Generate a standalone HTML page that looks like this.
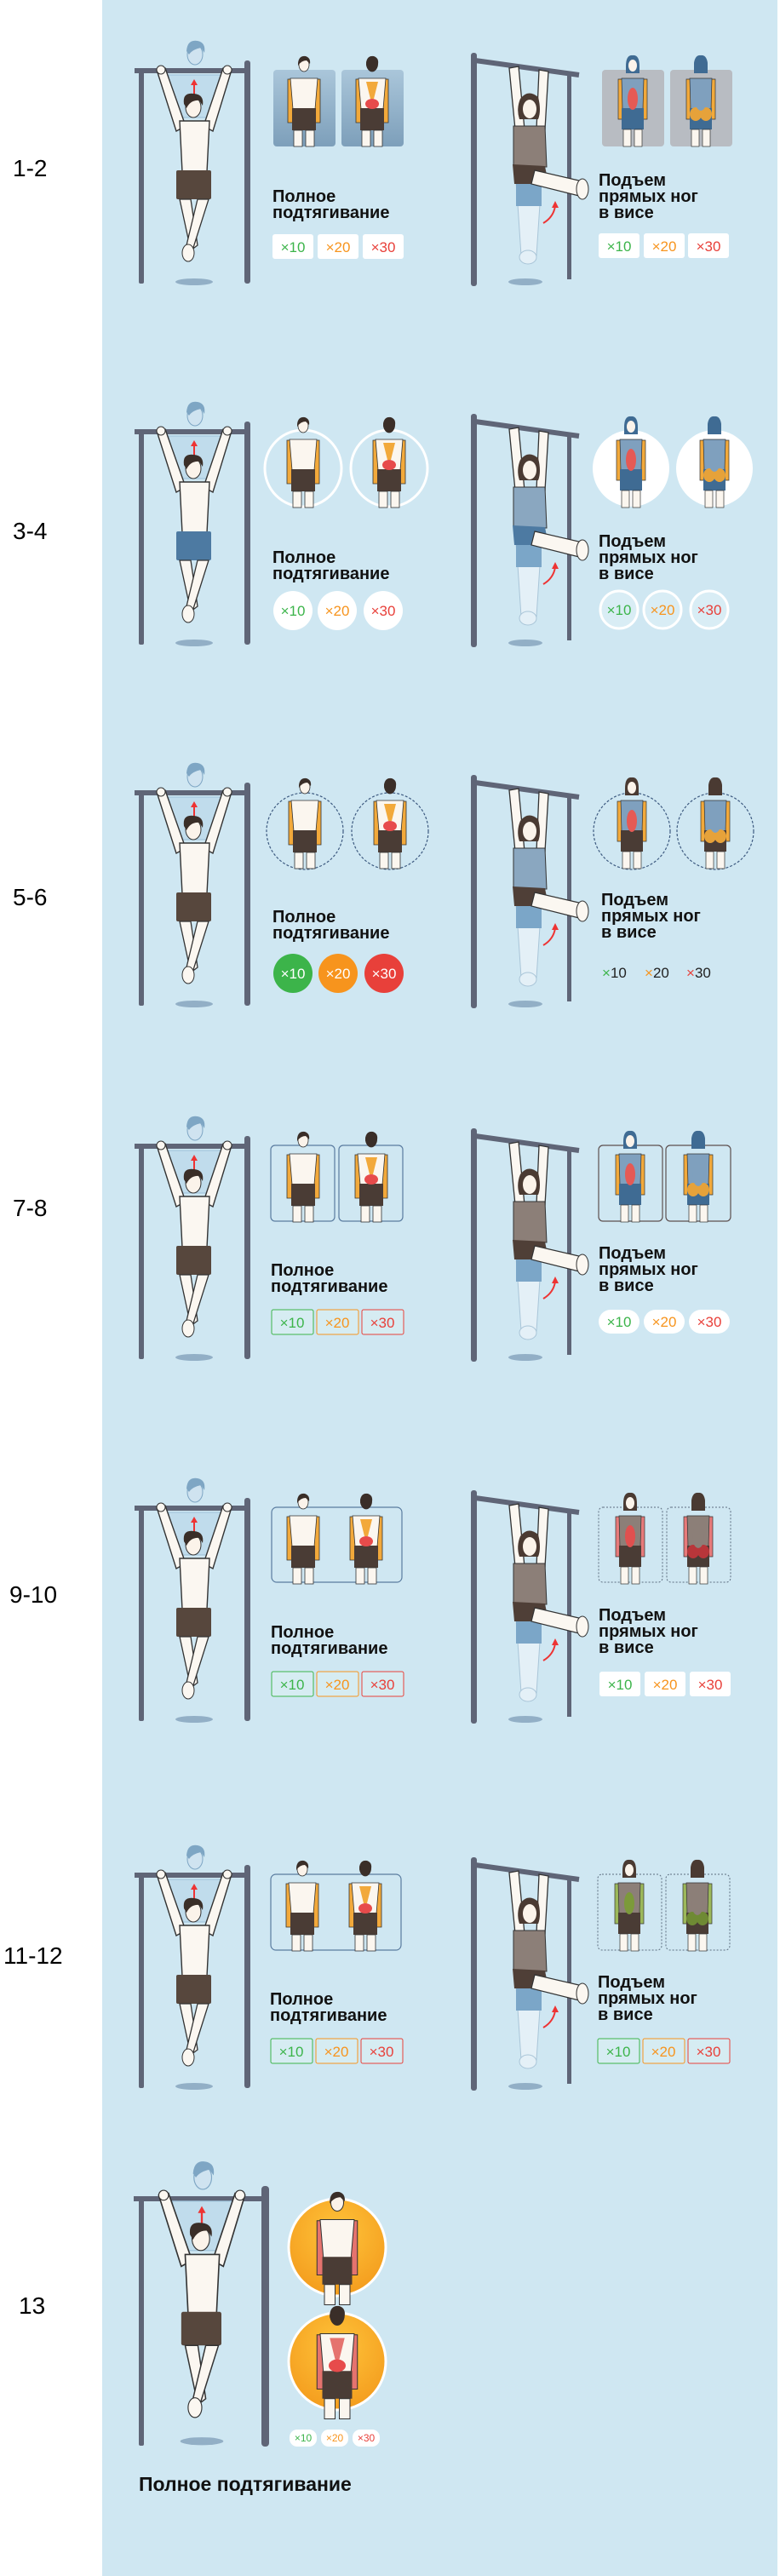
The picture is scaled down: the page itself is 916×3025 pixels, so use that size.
<!DOCTYPE html>
<html><head><meta charset="utf-8"><style>
html,body{margin:0;padding:0;background:#fff}
svg{display:block}
.lab{font:28px "Liberation Sans",sans-serif;fill:#000}
.t{font:bold 20px "Liberation Sans","Noto Sans CJK SC",sans-serif;fill:#111}
.b{font:17px "Liberation Sans",sans-serif}
.g{fill:#3cb44a}.o{fill:#f7941d}.r{fill:#e8403a}.k{fill:#222}
</style></head><body>
<svg width="916" height="3025" viewBox="0 0 916 3025" xmlns="http://www.w3.org/2000/svg">
<defs>
<linearGradient id="bp" x1="0" y1="0" x2="0" y2="1"><stop offset="0" stop-color="#aac6da"/><stop offset="1" stop-color="#7d9fba"/></linearGradient>
<radialGradient id="og" cx="0.5" cy="0.35" r="0.7"><stop offset="0" stop-color="#ffc43a"/><stop offset="1" stop-color="#f39a1c"/></radialGradient>
<!-- man on bar (no bars) -->
<g id="man">
 <ellipse cx="228" cy="331" rx="22" ry="4" fill="#92afc6"/>
 <path d="M198,88 L262,88 L258,112 L246,138 L212,138 L200,112 Z" fill="#c0dcec" stroke="#9cc0d8"/>
 <ellipse cx="229" cy="64" rx="9" ry="12" fill="#cfe3f0" stroke="#7ea6c4"/>
 <path d="M219,60 Q220,46 232,48 Q242,50 240,62 L236,56 Q226,58 222,64 Z" fill="#7ea6c4"/>
 <path d="M228,112 L228,98" stroke="#e33" stroke-width="2"/><path d="M224,100 L228,93 L232,100Z" fill="#e33"/>
 <path d="M184,82 L194,80 L218,148 L207,154 Z" fill="#fbf7f1" stroke="#333" stroke-width="1.4"/>
 <path d="M262,80 L272,82 L250,154 L239,148 Z" fill="#fbf7f1" stroke="#333" stroke-width="1.4"/>
 <circle cx="189" cy="82" r="5" fill="#fbf7f1" stroke="#333"/><circle cx="267" cy="82" r="5" fill="#fbf7f1" stroke="#333"/>
 <path d="M211,142 L246,142 L243,202 L214,202 Z" fill="#fbf7f1" stroke="#333" stroke-width="1.4"/>
 <ellipse cx="227" cy="126" rx="9" ry="12" fill="#fbf3ea" stroke="#333"/>
 <path d="M216,122 Q214,108 228,110 Q240,111 238,124 L234,118 Q224,117 219,127 Z" fill="#3a2e28"/>
 <rect x="207" y="200" width="41" height="34" rx="2" fill="var(--sh,#57473d)"/>
 <path d="M211,234 L224,234 L232,288 L224,294 Z" fill="#fbf7f1" stroke="#333" stroke-width="1.3"/>
 <path d="M232,234 L245,234 L226,294 L219,288 Z" fill="#fbf7f1" stroke="#333" stroke-width="1.3"/>
 <ellipse cx="221" cy="297" rx="7" ry="10" fill="#fbf7f1" stroke="#333"/>
</g>
<g id="lbars">
 <rect x="163" y="83" width="6" height="250" rx="2" fill="#5f6577"/>
 <rect x="287" y="71" width="7" height="262" rx="3" fill="#5f6577"/>
 <rect x="158" y="80" width="134" height="6" fill="#5f6577"/>
</g>
<g id="woman">
 <rect x="553" y="62" width="7" height="274" rx="3" fill="#5f6577"/>
 <rect x="666" y="88" width="5" height="240" fill="#5f6577"/>
 <path d="M558,71 L680,88" stroke="#5f6577" stroke-width="6"/>
 <ellipse cx="617" cy="331" rx="20" ry="4" fill="#92afc6"/>
 <path d="M598,80 L609,78 L616,152 L605,152 Z" fill="#fbf7f1" stroke="#333" stroke-width="1.3"/>
 <path d="M633,82 L644,84 L640,152 L630,152 Z" fill="#fbf7f1" stroke="#333" stroke-width="1.3"/>
 <path d="M606,214 L636,214 L634,240 L630,300 L612,300 L608,240Z" fill="#e4f0f7" stroke="#a9c5d8"/>
 <rect x="606" y="212" width="30" height="30" fill="#7ba6c8"/>
 <ellipse cx="620" cy="302" rx="10" ry="8" fill="#e4f0f7" stroke="#a9c5d8"/>
 <path d="M603,148 L640,148 L642,196 L603,196 Z" fill="var(--top,#8c7f78)" stroke="#333" stroke-width="1"/>
 <path d="M602,193 L640,195 L644,216 L604,216 Z" fill="var(--ws,#4f3f37)"/>
 <path d="M628,200 L684,213 L680,230 L624,216 Z" fill="#fbf7f1" stroke="#333" stroke-width="1.2"/>
 <ellipse cx="684" cy="222" rx="7" ry="12" fill="#fbf7f1" stroke="#333"/>
 <path d="M611,116 Q620,104 632,114 Q636,130 632,140 L610,140 Q606,128 611,116Z" fill="#4a3a32"/>
 <ellipse cx="622" cy="128" rx="8" ry="11" fill="#fbf3ea"/>
 <path d="M638,262 Q650,255 652,242" stroke="#e33" stroke-width="2" fill="none"/><path d="M648,244 L652,236 L656,244Z" fill="#e33"/>
</g>
<!-- small figures: origin = panel center x, panel top y -->
<g id="fm">
 <path d="M-19,11 L-13,11 L-13,62 L-19,62Z" fill="var(--arm,#f2a93b)" stroke="#333" stroke-width=".8"/>
 <path d="M13,11 L19,11 L19,62 L13,62Z" fill="var(--arm,#f2a93b)" stroke="#333" stroke-width=".8"/>
 <path d="M-16,10 L16,10 L13,46 L-13,46Z" fill="#fbf6ef" stroke="#333" stroke-width=".8"/>
 <rect x="-14" y="45" width="28" height="26" fill="#4a3c35"/>
 <rect x="-12" y="71" width="10" height="19" fill="#fbf6ef" stroke="#333" stroke-width=".8"/>
 <rect x="2" y="71" width="10" height="19" fill="#fbf6ef" stroke="#333" stroke-width=".8"/>
 <ellipse cx="0" cy="-6" rx="6" ry="8" fill="#fbf3ea" stroke="#333" stroke-width=".8"/>
 <path d="M-7,-8 Q-6,-17 2,-16 Q8,-14 7,-7 L3,-11 Q-3,-11 -7,-5Z" fill="#3a2e28"/>
</g>
<g id="bm">
 <use href="#fm"/>
 <path d="M-7,14 L7,14 L2,34 L-2,34Z" fill="var(--arm,#f2a93b)"/>
 <ellipse cx="0" cy="40" rx="8" ry="6" fill="#e74b4b"/>
 <ellipse cx="0" cy="-7" rx="7" ry="9" fill="#3a2e28"/>
</g>
<g id="fw">
 <path d="M-17,11 L-12,11 L-12,58 L-17,58Z" fill="var(--warm,#f2a93b)" stroke="#333" stroke-width=".7"/>
 <path d="M12,11 L17,11 L17,58 L12,58Z" fill="var(--warm,#f2a93b)" stroke="#333" stroke-width=".7"/>
 <path d="M-13,10 L13,10 L12,46 L-12,46Z" fill="var(--wt,#7fa0be)" stroke="#333" stroke-width=".7"/>
 <rect x="-13" y="45" width="26" height="25" fill="var(--wsh,#3f6b93)"/>
 <ellipse cx="0" cy="34" rx="6" ry="13" fill="var(--abs,#e55a55)"/>
 <rect x="-11" y="70" width="9" height="20" fill="#fbf6ef" stroke="#333" stroke-width=".7"/>
 <rect x="2" y="70" width="9" height="20" fill="#fbf6ef" stroke="#333" stroke-width=".7"/>
 <path d="M-8,-4 Q-8,-18 0,-17 Q8,-18 8,-4 L8,4 L-8,4Z" fill="var(--wh,#3f6b93)"/>
 <ellipse cx="0" cy="-5" rx="5" ry="7" fill="#fbf3ea"/>
</g>
<g id="bw">
 <use href="#fw"/>
 <ellipse cx="-6" cy="52" rx="7" ry="8" fill="var(--glu,#e6a23a)"/><ellipse cx="6" cy="52" rx="7" ry="8" fill="var(--glu,#e6a23a)"/>
 <ellipse cx="0" cy="34" rx="7" ry="14" fill="var(--wt,#7fa0be)"/>
 <ellipse cx="0" cy="-7" rx="8" ry="10" fill="var(--wh,#3f6b93)"/>
</g>
</defs>

<rect x="120" y="0" width="793" height="3025" fill="#cfe7f2"/>

<!-- labels -->
<text class="lab" x="15" y="207">1-2</text>
<text class="lab" x="15" y="633">3-4</text>
<text class="lab" x="15" y="1063">5-6</text>
<text class="lab" x="15" y="1428">7-8</text>
<text class="lab" x="11" y="1882">9-10</text>
<text class="lab" x="4" y="2306">11-12</text>
<text class="lab" x="22" y="2717">13</text>

<!-- ROW 1 -->
<g>
 <use href="#lbars"/><use href="#man"/><use href="#woman"/>
 <rect x="321" y="82" width="73" height="90" rx="4" fill="url(#bp)"/>
 <rect x="401" y="82" width="73" height="90" rx="4" fill="url(#bp)"/>
 <use href="#fm" x="357" y="82"/><use href="#bm" x="437" y="82"/>
 <rect x="707" y="82" width="73" height="90" rx="4" fill="#b8bcc2"/>
 <rect x="787" y="82" width="73" height="90" rx="4" fill="#b8bcc2"/>
 <use href="#fw" x="743" y="82"/><use href="#bw" x="823" y="82"/>
 <text class="t" x="320" y="237">Полное</text><text class="t" x="320" y="256">подтягивание</text>
 <text class="t" x="703" y="218">Подъем</text><text class="t" x="703" y="237">прямых ног</text><text class="t" x="703" y="256">в висе</text>
 <g fill="#fff"><rect x="320" y="275" width="48" height="29" rx="3"/><rect x="373" y="275" width="48" height="29" rx="3"/><rect x="426" y="275" width="48" height="29" rx="3"/>
 <rect x="703" y="274" width="48" height="29" rx="3"/><rect x="756" y="274" width="48" height="29" rx="3"/><rect x="808" y="274" width="48" height="29" rx="3"/></g>
 <g class="b" text-anchor="middle"><text class="g" x="344" y="296">×10</text><text class="o" x="397" y="296">×20</text><text class="r" x="450" y="296">×30</text>
 <text class="g" x="727" y="295">×10</text><text class="o" x="780" y="295">×20</text><text class="r" x="832" y="295">×30</text></g>
</g>

<!-- ROW 2 -->
<g transform="translate(0,424)" style="--sh:#4d7aa2;--top:#8aa7c0;--ws:#4d7aa2">
 <use href="#lbars"/><use href="#man"/><use href="#woman"/>
 <circle cx="356" cy="126" r="45" fill="#cfe7f2" stroke="#fff" stroke-width="3"/>
 <circle cx="457" cy="126" r="45" fill="#cfe7f2" stroke="#fff" stroke-width="3"/>
 <use href="#fm" x="356" y="82"/><use href="#bm" x="457" y="82"/>
 <circle cx="741" cy="126" r="45" fill="#fff"/><circle cx="839" cy="126" r="45" fill="#fff"/>
 <use href="#fw" x="741" y="82"/><use href="#bw" x="839" y="82"/>
 <text class="t" x="320" y="237">Полное</text><text class="t" x="320" y="256">подтягивание</text>
 <text class="t" x="703" y="218">Подъем</text><text class="t" x="703" y="237">прямых ног</text><text class="t" x="703" y="256">в висе</text>
 <g fill="#fff"><circle cx="344" cy="293" r="23"/><circle cx="396" cy="293" r="23"/><circle cx="450" cy="293" r="23"/></g>
 <g fill="#d9edf5" stroke="#fff" stroke-width="3"><circle cx="727" cy="292" r="22"/><circle cx="778" cy="292" r="22"/><circle cx="833" cy="292" r="22"/></g>
 <g class="b" text-anchor="middle"><text class="g" x="344" y="299">×10</text><text class="o" x="396" y="299">×20</text><text class="r" x="450" y="299">×30</text>
 <text class="g" x="727" y="298">×10</text><text class="o" x="778" y="298">×20</text><text class="r" x="833" y="298">×30</text></g>
</g>

<!-- ROW 3 -->
<g transform="translate(0,848)" style="--top:#8aa7c0;--ws:#4f3f37;--wsh:#4a3c35;--wh:#4a3a32">
 <use href="#lbars"/><use href="#man"/><use href="#woman"/>
 <g fill="none" stroke="#3d5a80" stroke-width="1.2" stroke-dasharray="3,2"><circle cx="358" cy="128" r="45"/><circle cx="458" cy="128" r="45"/><circle cx="742" cy="128" r="45"/><circle cx="840" cy="128" r="45"/></g>
 <use href="#fm" x="358" y="82"/><use href="#bm" x="458" y="82"/>
 <use href="#fw" x="742" y="82"/><use href="#bw" x="840" y="82"/>
 <text class="t" x="320" y="235">Полное</text><text class="t" x="320" y="254">подтягивание</text>
 <text class="t" x="706" y="215">Подъем</text><text class="t" x="706" y="234">прямых ног</text><text class="t" x="706" y="253">в висе</text>
 <circle cx="344" cy="295" r="23" fill="#3cb44a"/><circle cx="397" cy="295" r="23" fill="#f7941d"/><circle cx="451" cy="295" r="23" fill="#e8403a"/>
 <g class="b" text-anchor="middle" fill="#fff"><text x="344" y="301">×10</text><text x="397" y="301">×20</text><text x="451" y="301">×30</text></g>
 <g class="b"><text x="707" y="300"><tspan class="g">×</tspan><tspan class="k">10</tspan></text><text x="757" y="300"><tspan class="o">×</tspan><tspan class="k">20</tspan></text><text x="806" y="300"><tspan class="r">×</tspan><tspan class="k">30</tspan></text></g>
</g>

<!-- ROW 4 -->
<g transform="translate(0,1263)">
 <use href="#lbars"/><use href="#man"/><use href="#woman"/>
 <g fill="none" stroke="#5a7ca0" stroke-width="1.2"><rect x="318" y="82" width="75" height="89" rx="5"/><rect x="398" y="82" width="75" height="89" rx="5"/></g>
 <g fill="none" stroke="#5d4f4f" stroke-width="1.2"><rect x="703" y="82" width="75" height="89" rx="5"/><rect x="782" y="82" width="76" height="89" rx="5"/></g>
 <use href="#fm" x="356" y="82"/><use href="#bm" x="436" y="82"/>
 <use href="#fw" x="740" y="82"/><use href="#bw" x="820" y="82"/>
 <text class="t" x="318" y="235">Полное</text><text class="t" x="318" y="254">подтягивание</text>
 <text class="t" x="703" y="215">Подъем</text><text class="t" x="703" y="234">прямых ног</text><text class="t" x="703" y="253">в висе</text>
 <rect x="319" y="275" width="49" height="29" rx="2" fill="#d6ecf2" stroke="#3cb44a"/><rect x="372" y="275" width="49" height="29" rx="2" fill="#d6ecf2" stroke="#f7941d"/><rect x="425" y="275" width="49" height="29" rx="2" fill="#d6ecf2" stroke="#e8403a"/>
 <g fill="#fff"><rect x="703" y="275" width="48" height="28" rx="14"/><rect x="756" y="275" width="48" height="28" rx="14"/><rect x="809" y="275" width="48" height="28" rx="14"/></g>
 <g class="b" text-anchor="middle"><text class="g" x="343" y="296">×10</text><text class="o" x="396" y="296">×20</text><text class="r" x="449" y="296">×30</text>
 <text class="g" x="727" y="295">×10</text><text class="o" x="780" y="295">×20</text><text class="r" x="833" y="295">×30</text></g>
</g>

<!-- ROW 5 -->
<g transform="translate(0,1688)" style="--top:#8c7f78;--wt:#8c7f78;--wsh:#4a3c35;--wh:#4a3a32;--abs:#e0504f;--warm:#e77a7a;--glu:#b8363a">
 <use href="#lbars"/><use href="#man"/><use href="#woman"/>
 <rect x="319" y="82" width="153" height="88" rx="6" fill="none" stroke="#5a7ca0" stroke-width="1.2"/>
 <g fill="none" stroke="#5d6e80" stroke-width="1" stroke-dasharray="2,2"><rect x="703" y="82" width="75" height="88" rx="5"/><rect x="783" y="82" width="75" height="88" rx="5"/></g>
 <use href="#fm" x="356" y="82"/><use href="#bm" x="430" y="82"/>
 <use href="#fw" x="740" y="82"/><use href="#bw" x="820" y="82"/>
 <text class="t" x="318" y="235">Полное</text><text class="t" x="318" y="254">подтягивание</text>
 <text class="t" x="703" y="215">Подъем</text><text class="t" x="703" y="234">прямых ног</text><text class="t" x="703" y="253">в висе</text>
 <rect x="319" y="275" width="49" height="29" rx="2" fill="#d6ecf2" stroke="#3cb44a"/><rect x="372" y="275" width="49" height="29" rx="2" fill="#d6ecf2" stroke="#f7941d"/><rect x="425" y="275" width="49" height="29" rx="2" fill="#d6ecf2" stroke="#e8403a"/>
 <g fill="#fff"><rect x="704" y="275" width="48" height="29" rx="3"/><rect x="757" y="275" width="48" height="29" rx="3"/><rect x="810" y="275" width="48" height="29" rx="3"/></g>
 <g class="b" text-anchor="middle"><text class="g" x="343" y="296">×10</text><text class="o" x="396" y="296">×20</text><text class="r" x="449" y="296">×30</text>
 <text class="g" x="728" y="296">×10</text><text class="o" x="781" y="296">×20</text><text class="r" x="834" y="296">×30</text></g>
</g>

<!-- ROW 6 -->
<g transform="translate(0,2119)" style="--top:#8c7f78;--wt:#8c7f78;--wsh:#4a3c35;--wh:#4a3a32;--abs:#7c9a3a;--warm:#9cb85a;--glu:#6f8a34">
 <use href="#lbars"/><use href="#man"/><use href="#woman"/>
 <rect x="318" y="82" width="153" height="89" rx="6" fill="none" stroke="#5a7ca0" stroke-width="1.2"/>
 <g fill="none" stroke="#5d6e80" stroke-width="1" stroke-dasharray="2,2"><rect x="702" y="82" width="75" height="89" rx="5"/><rect x="782" y="82" width="75" height="89" rx="5"/></g>
 <use href="#fm" x="355" y="82"/><use href="#bm" x="429" y="82"/>
 <use href="#fw" x="739" y="82"/><use href="#bw" x="819" y="82"/>
 <text class="t" x="317" y="235">Полное</text><text class="t" x="317" y="254">подтягивание</text>
 <text class="t" x="702" y="215">Подъем</text><text class="t" x="702" y="234">прямых ног</text><text class="t" x="702" y="253">в висе</text>
 <rect x="318" y="275" width="49" height="29" rx="2" fill="#d6ecf2" stroke="#3cb44a"/><rect x="371" y="275" width="49" height="29" rx="2" fill="#d6ecf2" stroke="#f7941d"/><rect x="424" y="275" width="49" height="29" rx="2" fill="#d6ecf2" stroke="#e8403a"/>
 <rect x="702" y="275" width="49" height="29" rx="2" fill="#d6ecf2" stroke="#3cb44a"/><rect x="755" y="275" width="49" height="29" rx="2" fill="#d6ecf2" stroke="#f7941d"/><rect x="808" y="275" width="49" height="29" rx="2" fill="#d6ecf2" stroke="#e8403a"/>
 <g class="b" text-anchor="middle"><text class="g" x="342" y="296">×10</text><text class="o" x="395" y="296">×20</text><text class="r" x="448" y="296">×30</text>
 <text class="g" x="726" y="296">×10</text><text class="o" x="779" y="296">×20</text><text class="r" x="832" y="296">×30</text></g>
</g>

<!-- ROW 7 -->
<g transform="translate(0,2499)">
 <rect x="163" y="83" width="6" height="290" rx="2" fill="#5f6577"/>
 <rect x="307" y="68" width="9" height="306" rx="4" fill="#5f6577"/>
 <rect x="157" y="80" width="156" height="6" fill="#5f6577"/>
 <g transform="translate(237,0) scale(1.15,1.16) translate(-228,-14)"><use href="#man"/></g>
 <circle cx="396" cy="140" r="57" fill="url(#og)" stroke="#fff" stroke-width="3"/>
 <circle cx="396" cy="274" r="57" fill="url(#og)" stroke="#fff" stroke-width="3"/>
 <g style="--arm:#e5736e"><g transform="translate(396,95) scale(1.25)"><use href="#fm"/></g><g transform="translate(396,229) scale(1.25)"><use href="#bm"/></g></g>
 <g fill="#fff"><rect x="340" y="354" width="32" height="20" rx="9"/><rect x="377" y="354" width="32" height="20" rx="9"/><rect x="414" y="354" width="32" height="20" rx="9"/></g>
 <g font-family="Liberation Sans, sans-serif" font-size="12" text-anchor="middle"><text class="g" x="356" y="368">×10</text><text class="o" x="393" y="368">×20</text><text class="r" x="430" y="368">×30</text></g>
 <text x="163" y="426" font-family="Liberation Sans, sans-serif" font-weight="bold" font-size="23" fill="#111">Полное подтягивание</text>
</g>
</svg>
</body></html>
